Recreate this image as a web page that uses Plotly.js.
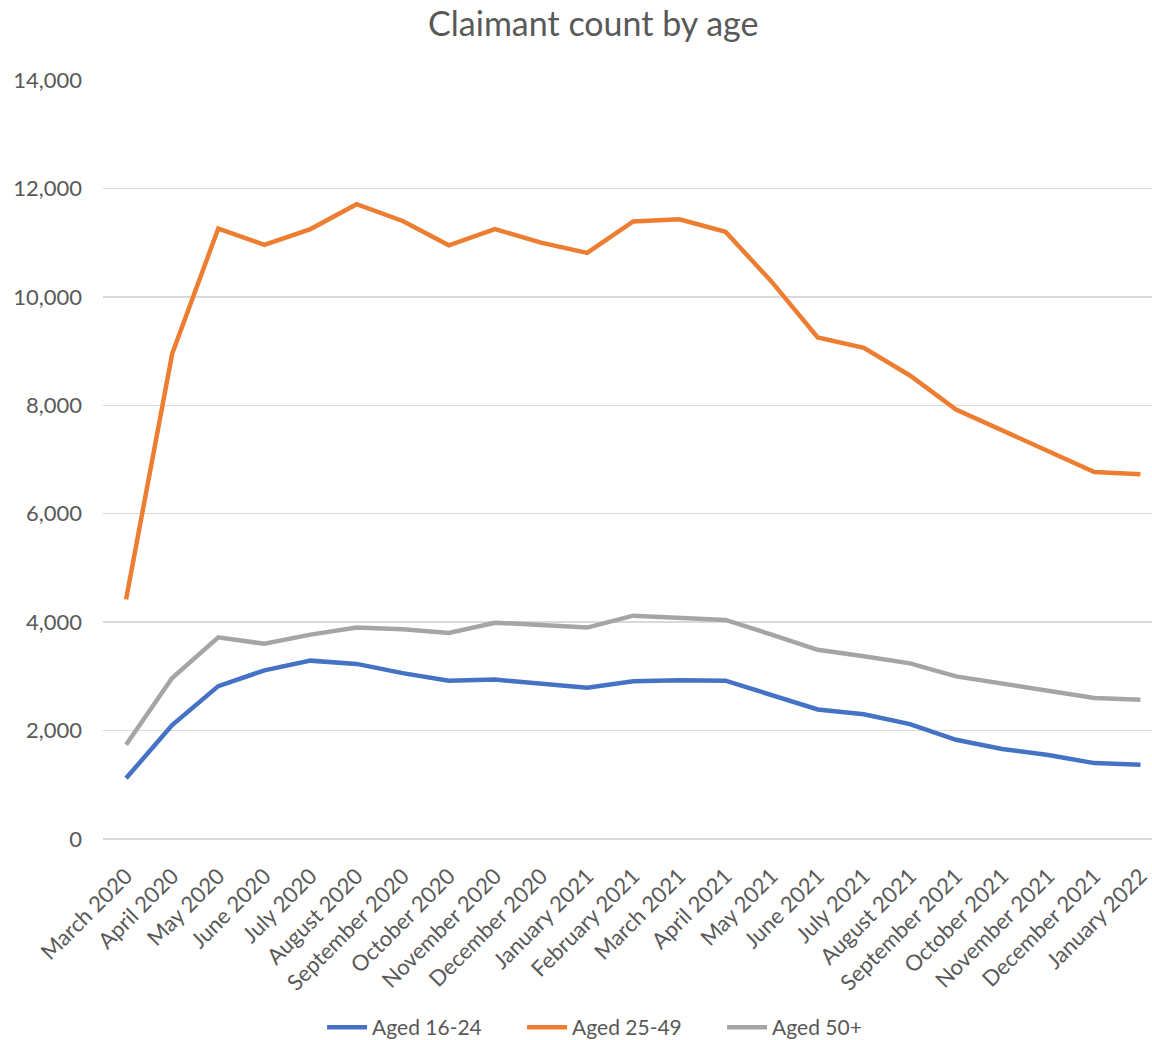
<!DOCTYPE html>
<html>
<head>
<meta charset="utf-8">
<script src="https://cdn.plot.ly/plotly-3.0.1.min.js"></script>
<style>html,body{margin:0;padding:0;background:#fff;}#chart{width:1152px;height:1040px;}</style>
</head>
<body>
<div id="chart"></div>
<script>
const months = ["March 2020","April 2020","May 2020","June 2020","July 2020","August 2020","September 2020","October 2020","November 2020","December 2020","January 2021","February 2021","March 2021","April 2021","May 2021","June 2021","July 2021","August 2021","September 2021","October 2021","November 2021","December 2021","January 2022"];
const aged16_24 = [1120,2100,2820,3110,3290,3230,3060,2920,2940,2860,2790,2910,2930,2920,2660,2390,2300,2120,1830,1660,1550,1400,1370];
const aged25_49 = [4420,8950,11260,10960,11250,11710,11400,10950,11250,11000,10810,11390,11430,11200,10280,9250,9060,8550,7920,7540,7160,6770,6730];
const aged50plus = [1740,2970,3720,3600,3770,3900,3870,3800,3990,3940,3900,4120,4090,4040,3770,3490,3370,3240,3000,2870,2730,2600,2570];
const seriesNames = ["Aged 16-24","Aged 25-49","Aged 50+"];
const colors = ["#4472C4","#ED7D31","#A5A5A5"];
const values = [aged16_24, aged25_49, aged50plus];

const font = "Lato, 'Open Sans', sans-serif";
const traces = values.map((v,i)=>({
  type:"scatter", mode:"lines", x:months, y:v, name:seriesNames[i],
  line:{color:colors[i], width:4.5}
}));

const layout = {
  width:1152, height:1040,
  margin:{l:103, r:0, t:80, b:201, autoexpand:false},
  paper_bgcolor:"#fff", plot_bgcolor:"#fff",
  font:{family:font, color:"#595959", size:21},
  title:{text:"Claimant count by age", font:{family:font, size:34, color:"#595959"}, x:0.515, xanchor:"center", y:0.977, yanchor:"middle"},
  xaxis:{type:"category", range:[-0.5,22.25], automargin:false, showgrid:false, zeroline:false, showline:false, ticks:"", tickangle:-45, ticklabelstandoff:19, tickfont:{size:22, color:"#595959"}, fixedrange:true},
  yaxis:{range:[0,14000], dtick:2000, tickformat:",", automargin:false, gridcolor:"#D9D9D9", gridwidth:1.5, zeroline:true, zerolinecolor:"#D9D9D9", zerolinewidth:1.5, showline:false, ticks:"", ticklabelstandoff:20, tickfont:{size:22, color:"#595959"}, fixedrange:true},
  showlegend:true,
  legend:{orientation:"h", xref:"container", yref:"container", x:0.54, xanchor:"center", y:0.012, yanchor:"middle", font:{size:21, color:"#595959"}, itemwidth:40, entrywidth:145, entrywidthmode:"pixels"}
};
Plotly.newPlot("chart", traces, layout, {displayModeBar:false, staticPlot:true});
</script>
</body>
</html>
